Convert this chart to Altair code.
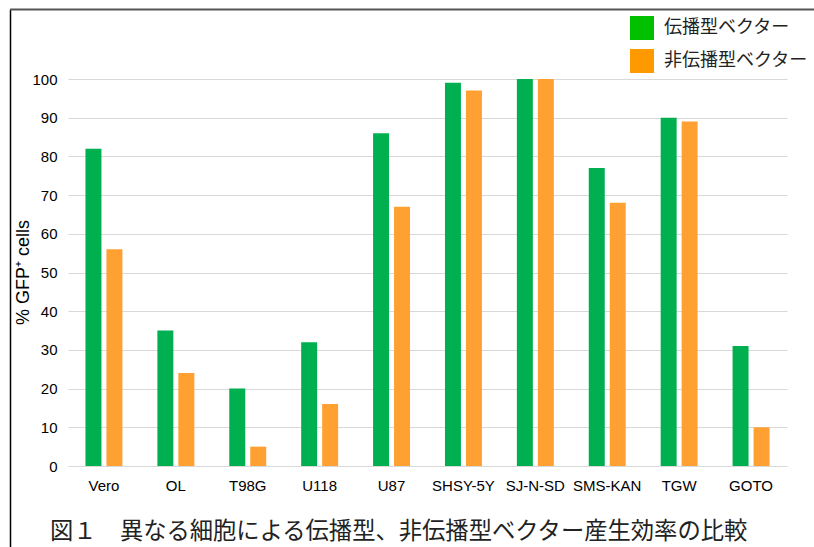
import altair as alt
import pandas as pd

cells = ["Vero", "OL", "T98G", "U118", "U87", "SHSY-5Y", "SJ-N-SD", "SMS-KAN", "TGW", "GOTO"]
prop = [82, 35, 20, 32, 86, 99, 100, 77, 90, 31]
nonprop = [56, 24, 5, 16, 67, 97, 100, 68, 89, 10]
series_names = ["伝播型ベクター", "非伝播型ベクター"]
bar_colors = ["#00B050", "#FFA032"]
legend_colors = ["#00C000", "#FF9900"]
caption = "図１　異なる細胞による伝播型、非伝播型ベクター産生効率の比較"

rows = []
for c, a, b in zip(cells, prop, nonprop):
    rows.append({"cell": c, "series": series_names[0], "value": a})
    rows.append({"cell": c, "series": series_names[1], "value": b})
df = pd.DataFrame(rows)

x = alt.X("cell:N", sort=cells, title=None,
          scale=alt.Scale(paddingInner=0.486, paddingOuter=0.243),
          axis=alt.Axis(labelAngle=0, labelFont="Liberation Sans", labelFontSize=15,
                        labelColor="#000", labelPadding=12, ticks=False, domain=False, grid=False))
y = alt.Y("value:Q", title="% GFP⁺ cells",
          scale=alt.Scale(domain=[0, 100], nice=False),
          axis=alt.Axis(values=list(range(0, 101, 10)), labelFont="Liberation Sans", labelFontSize=15,
                        labelColor="#000", labelPadding=11, ticks=False, domain=False,
                        gridColor="#D9D9D9", gridWidth=1,
                        titleFont="Liberation Sans", titleFontSize=18, titleFontWeight="normal",
                        titleColor="#000", titleX=-45, titleY=193, titleAngle=270,
                        titleBaseline="middle"))
xo = alt.XOffset("series:N", sort=series_names,
                 scale=alt.Scale(paddingInner=0.238, paddingOuter=0))

bars = alt.Chart(df).mark_bar().encode(
    x=x, y=y, xOffset=xo,
    color=alt.Color("series:N", sort=series_names,
                    scale=alt.Scale(domain=series_names, range=bar_colors), legend=None),
)

legend_layer = alt.Chart(df).mark_bar(opacity=0).encode(
    x=x, y=y, xOffset=xo,
    fill=alt.Fill("series:N", sort=series_names,
                  scale=alt.Scale(domain=series_names, range=legend_colors),
                  legend=alt.Legend(title=None, orient="none", legendX=562, legendY=-63,
                                    symbolType="square", symbolSize=576, symbolOpacity=1,
                                    symbolStrokeWidth=0,
                                    labelFont="Noto Sans CJK JP", labelFontSize=18,
                                    labelColor="#222", labelOffset=10, rowPadding=9,
                                    labelLimit=300)),
)

frame_df = pd.DataFrame({"k": [0]})
left_line = alt.Chart(frame_df).mark_rule(color="#000", strokeWidth=1.5).encode(
    x=alt.value(-57.5), y=alt.value(-69), y2=alt.value(470))
top_line = alt.Chart(frame_df).mark_rule(color="#555", strokeWidth=2).encode(
    x=alt.value(-58), x2=alt.value(750), y=alt.value(-69.5))

cap = alt.Chart(pd.DataFrame({"t": [caption]})).mark_text(
    align="left", baseline="alphabetic", font="Noto Sans CJK JP", fontSize=23.3, color="#222"
).encode(x=alt.value(-18), y=alt.value(460), text="t:N")

chart = alt.layer(bars, legend_layer, left_line, top_line, cap).properties(
    width=719, height=387,
    autosize=alt.AutoSizeParams(type="none"),
    padding={"left": 68, "top": 79, "right": 27, "bottom": 81},
).configure_view(stroke=None).resolve_scale(color="independent")

chart.save("out.html", embed_options={"renderer": "svg", "actions": False})
